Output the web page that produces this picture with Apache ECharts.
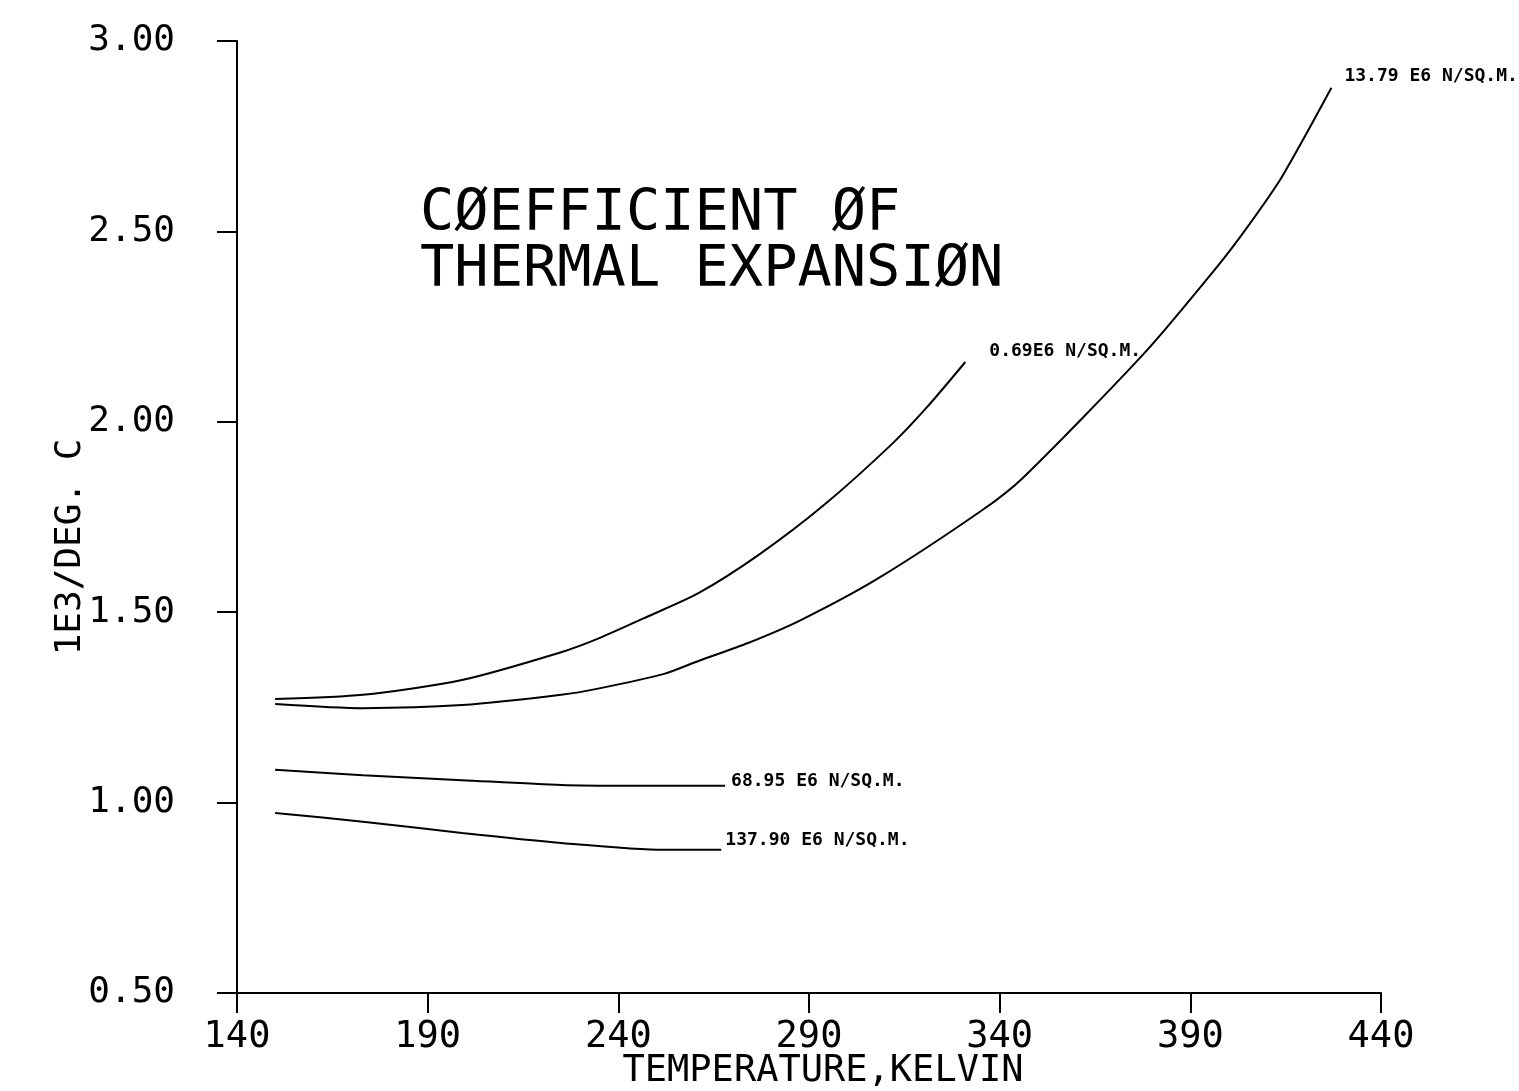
<!DOCTYPE html>
<html>
<head>
<meta charset="utf-8">
<script src="https://cdn.jsdelivr.net/npm/echarts@6/dist/echarts.min.js"></script>
<style>
html,body{margin:0;padding:0;background:#fff;}
#chart{width:1519px;height:1091px;}
</style>
</head>
<body>
<div id="chart"></div>
<script>
// ---- data ----
const titleLines = ['CØEFFICIENT ØF', 'THERMAL EXPANSIØN'];
const xName = 'TEMPERATURE,KELVIN';
const yName = '1E3/DEG. C';
const xTicks = [140, 190, 240, 290, 340, 390, 440];
const yTicks = [0.50, 1.00, 1.50, 2.00, 2.50, 3.00];

const nameA = '0.69E6 N/SQ.M.';
const tempA = [150, 173, 199, 225, 235, 248, 261, 277, 294, 312, 321, 331];
const cteA  = [1.272, 1.283, 1.322, 1.395, 1.432, 1.490, 1.550, 1.652, 1.782, 1.944, 2.039, 2.157];

const nameB = '13.79 E6 N/SQ.M.';
const tempB = [150, 173, 199, 225, 235, 252, 261, 274, 288, 308, 335, 346, 378, 397, 405, 414, 427];
const cteB  = [1.259, 1.248, 1.256, 1.283, 1.300, 1.338, 1.372, 1.419, 1.480, 1.588, 1.765, 1.852, 2.181, 2.407, 2.512, 2.643, 2.877];

const nameC = '68.95 E6 N/SQ.M.';
const tempC = [150, 173, 199, 225, 243, 268];
const cteC  = [1.086, 1.072, 1.059, 1.046, 1.044, 1.044];

const nameD = '137.90 E6 N/SQ.M.';
const tempD = [150, 173, 199, 225, 252, 267];
const cteD  = [0.973, 0.950, 0.920, 0.894, 0.876, 0.876];

const zip = (xs, ys) => xs.map((x, i) => [x, ys[i]]);
const MONO = '"DejaVu Sans Mono", "Liberation Mono", monospace';

function lineSeries(name, xs, ys, offset) {
  return {
    type: 'line',
    name: name,
    data: zip(xs, ys),
    showSymbol: false,
    smooth: 0.25,
    lineStyle: { color: '#000', width: 2 },
    itemStyle: { color: '#000' },
    endLabel: {
      show: true,
      formatter: name,
      offset: offset,
      color: '#000',
      fontFamily: MONO,
      fontWeight: 'bold',
      fontSize: 18
    },
    emphasis: { disabled: true }
  };
}

const chart = echarts.init(document.getElementById('chart'), null, { renderer: 'canvas' });
chart.setOption({
  animation: false,
  backgroundColor: '#fff',
  grid: { left: 237, right: 138, top: 41, bottom: 98, containLabel: false, outerBoundsMode: 'none' },
  xAxis: {
    type: 'value',
    min: xTicks[0], max: xTicks[xTicks.length - 1], interval: 50,
    name: xName,
    nameLocation: 'middle',
    nameGap: 60,
    nameMoveOverlap: false,
    nameTextStyle: { color: '#000', fontFamily: MONO, fontSize: 37, padding: [0, 0, 0, 28] },
    axisLine: { show: true, lineStyle: { color: '#000', width: 2 } },
    axisTick: { show: true, inside: false, length: 20, lineStyle: { color: '#000', width: 2 } },
    axisLabel: { color: '#000', fontFamily: MONO, fontSize: 37, margin: 26 },
    splitLine: { show: false }
  },
  yAxis: {
    type: 'value',
    min: yTicks[0], max: yTicks[yTicks.length - 1], interval: 0.5,
    name: yName,
    nameLocation: 'middle',
    nameGap: 148,
    nameRotate: 90,
    nameMoveOverlap: false,
    nameTextStyle: { color: '#000', fontFamily: MONO, fontSize: 36, padding: [0, 60, 0, 0] },
    axisLine: { show: true, lineStyle: { color: '#000', width: 2 } },
    axisTick: { show: true, inside: false, length: 20, lineStyle: { color: '#000', width: 2 } },
    axisLabel: { color: '#000', fontFamily: MONO, fontSize: 36, margin: 62, formatter: v => v.toFixed(2) },
    splitLine: { show: false }
  },
  graphic: [{
    type: 'text',
    left: 420,
    top: 187,
    style: {
      text: titleLines.join('\n'),
      fill: '#000',
      font: '57px ' + MONO,
      lineHeight: 56
    }
  }],
  series: [
    lineSeries(nameA, tempA, cteA, [16, -11]),
    lineSeries(nameB, tempB, cteB, [5, -12]),
    lineSeries(nameC, tempC, cteC, [-2, -5]),
    lineSeries(nameD, tempD, cteD, [-4, -9])
  ]
});
</script>
</body>
</html>
